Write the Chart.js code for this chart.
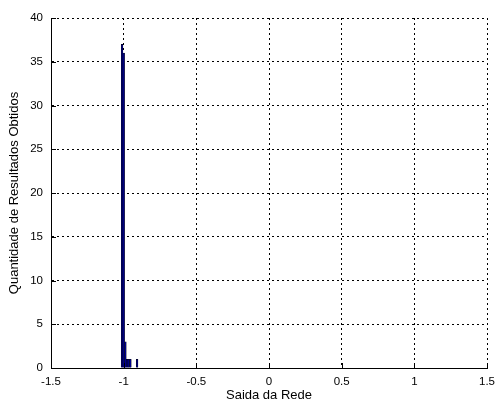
<!DOCTYPE html>
<html><head><meta charset="utf-8">
<script src="https://cdn.jsdelivr.net/npm/chart.js@4"></script>
<style>html,body{margin:0;padding:0;background:#fff}#wrap{width:502px;height:403px}</style>
</head><body>
<div id="wrap"><canvas id="c"></canvas></div>
<script>
const binCenters = [-1.011, -0.9995, -0.988, -0.9765, -0.965, -0.9535, -0.942, -0.9305, -0.919, -0.9075];
const counts = [37, 36, 3, 1, 1, 1, 0, 0, 0, 1];
const xTicks = [-1.5, -1, -0.5, 0, 0.5, 1, 1.5];
const yTicks = [0, 5, 10, 15, 20, 25, 30, 35, 40];
const xLabel = 'Saida da Rede';
const yLabel = 'Quantidade de Resultados Obtidos';

const FONT = 'Liberation Sans, Arial, Helvetica, sans-serif';

const inwardTicks = {
  id: 'inwardTicks',
  afterDatasetsDraw(chart) {
    const {ctx, chartArea: a, scales: {x, y}} = chart;
    ctx.save();
    ctx.strokeStyle = '#000';
    ctx.lineWidth = 1;
    ctx.beginPath();
    xTicks.forEach(v => {
      const px = Math.round(x.getPixelForValue(v)) + 0.5;
      ctx.moveTo(px, a.bottom);
      ctx.lineTo(px, a.bottom - 5);
    });
    yTicks.forEach(v => {
      const py = Math.round(y.getPixelForValue(v)) + 0.5;
      ctx.moveTo(a.left, py);
      ctx.lineTo(a.left + 5, py);
    });
    ctx.stroke();
    ctx.restore();
  }
};

new Chart(document.getElementById('c'), {
  type: 'bar',
  data: {
    datasets: [{
      data: binCenters.map((v, i) => ({x: v, y: counts[i]})),
      backgroundColor: '#00008f',
      borderColor: '#000',
      borderWidth: 0.5,
      barPercentage: 1,
      categoryPercentage: 1
    }]
  },
  options: {
    responsive: true,
    maintainAspectRatio: false,
    animation: false,
    devicePixelRatio: 1,
    layout: {padding: {top: 18, right: 9, left: 0, bottom: 0}},
    plugins: {legend: {display: false}, tooltip: {enabled: false}},
    scales: {
      x: {
        type: 'linear',
        min: -1.5, max: 1.5,
        offset: false,
        afterBuildTicks: s => { s.ticks = xTicks.map(v => ({value: v})); },
        afterFit: s => { s.height = 35; },
        grid: {color: '#000', lineWidth: 1, drawTicks: false, offset: false},
        border: {display: true, color: '#000', width: 1, dash: [2, 3]},
        ticks: {color: '#000', padding: 7, font: {family: FONT, size: 11.5}, maxRotation: 0,
          callback: v => String(v)},
        title: {display: true, text: xLabel, color: '#000', font: {family: FONT, size: 13}, padding: {top: 0, bottom: 0}}
      },
      y: {
        type: 'linear',
        min: 0, max: 40,
        afterBuildTicks: s => { s.ticks = yTicks.map(v => ({value: v})); },
        afterFit: s => { s.width = 51; },
        grid: {color: '#000', lineWidth: 1, drawTicks: false},
        border: {display: true, color: '#000', width: 1, dash: [2, 3]},
        ticks: {color: '#000', padding: 8, font: {family: FONT, size: 11.5}, callback: v => String(v)},
        title: {display: true, text: yLabel, color: '#000', font: {family: FONT, size: 13}, padding: {top: 7, bottom: 0}}
      }
    }
  },
  plugins: [inwardTicks]
});
</script>
</body></html>
